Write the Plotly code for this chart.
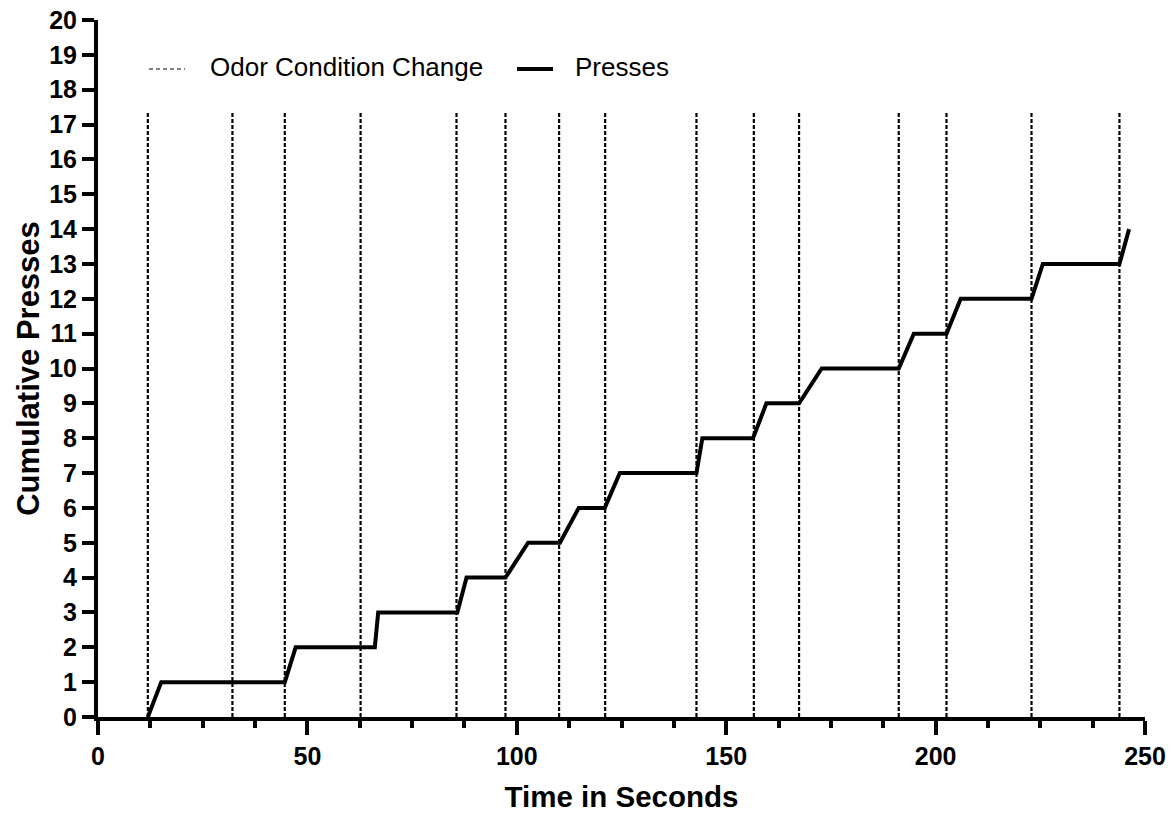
import plotly.graph_objects as go

# ---- data ----
odor_change_times = [11.9, 32.1, 44.6, 62.7, 85.6, 97.3, 110.1, 121.1, 142.9,
                     156.6, 167.4, 191.2, 202.6, 222.9, 243.9]
odor_line_top = 17.35

press_times = [11.9, 15.1, 44.6, 47.2, 66.1, 66.9, 85.8, 88.0, 97.3, 102.7,
               110.3, 114.8, 121.0, 124.6, 142.9, 144.3, 156.4, 159.6, 167.4,
               172.8, 191.2, 194.8, 202.6, 206.0, 222.9, 225.6, 243.9, 246.2]
press_counts = [0, 1, 1, 2, 2, 3, 3, 4, 4, 5, 5, 6, 6, 7, 7, 8, 8, 9, 9, 10,
                10, 11, 11, 12, 12, 13, 13, 14]

x_tickvals = [0, 50, 100, 150, 200, 250]
y_tickvals = list(range(0, 21))

FONT = "Arial, Liberation Sans, sans-serif"

# ---- figure ----
W, H = 1176, 814
ML, MR, MT, MB = 98, 31, 20, 97
PW, PH = W - ML - MR, H - MT - MB

def px_x(p):
    return (p - ML) / PW

def px_y(p):
    return (H - MB - p) / PH

vx, vy = [], []
for t in odor_change_times:
    vx += [t, t, None]
    vy += [0, odor_line_top, None]

fig = go.Figure()
fig.add_trace(go.Scatter(
    x=vx, y=vy, mode="lines", name="Odor Condition Change",
    line=dict(color="black", width=2.2, dash="4px,2px"),
    showlegend=False, hoverinfo="skip"))
fig.add_trace(go.Scatter(
    x=press_times, y=press_counts, mode="lines", name="Presses",
    line=dict(color="black", width=4), showlegend=False))

# manual legend (styled like the reference)
leg_y = px_y(67)
fig.add_shape(type="line", xref="paper", yref="paper",
              x0=px_x(149), x1=px_x(185), y0=px_y(69), y1=px_y(69),
              line=dict(color="black", width=1, dash="4px,3px"))
fig.add_annotation(xref="paper", yref="paper", x=px_x(208), y=leg_y,
                   text="Odor Condition Change", showarrow=False,
                   xanchor="left", yanchor="middle",
                   font=dict(family=FONT, size=26, color="black"))
fig.add_shape(type="line", xref="paper", yref="paper",
              x0=px_x(517), x1=px_x(553), y0=px_y(69), y1=px_y(69),
              line=dict(color="black", width=4))
fig.add_annotation(xref="paper", yref="paper", x=px_x(573), y=leg_y,
                   text="Presses", showarrow=False,
                   xanchor="left", yanchor="middle",
                   font=dict(family=FONT, size=26, color="black"))

fig.update_layout(
    width=W, height=H,
    margin=dict(l=ML, r=MR, t=MT, b=MB, pad=0, autoexpand=False),
    paper_bgcolor="white", plot_bgcolor="white",
    font=dict(family=FONT, color="black"),
    xaxis=dict(
        range=[0, 250], tickvals=x_tickvals, automargin=False,
        ticks="outside", ticklen=14, tickwidth=4, tickcolor="black",
        showline=True, linewidth=4, linecolor="black",
        showgrid=False, zeroline=False,
        minor=dict(dtick=12.5, tick0=0, ticks="outside", ticklen=7,
                   tickwidth=4, tickcolor="black", showgrid=False),
        tickfont=dict(family=FONT, size=25, weight="bold"),
        title=dict(text="Time in Seconds",
                   font=dict(family=FONT, size=29.5, weight="bold"),
                   standoff=18),
    ),
    yaxis=dict(
        range=[0, 20], tickvals=y_tickvals, automargin=False,
        ticks="outside", ticklen=12, tickwidth=4, tickcolor="black",
        showline=True, linewidth=4, linecolor="black",
        showgrid=False, zeroline=False,
        tickfont=dict(family=FONT, size=25, weight="bold"),
        title=dict(text="Cumulative Presses",
                   font=dict(family=FONT, size=31, weight="bold"),
                   standoff=1),
    ),
)

fig.write_html("out.html")
